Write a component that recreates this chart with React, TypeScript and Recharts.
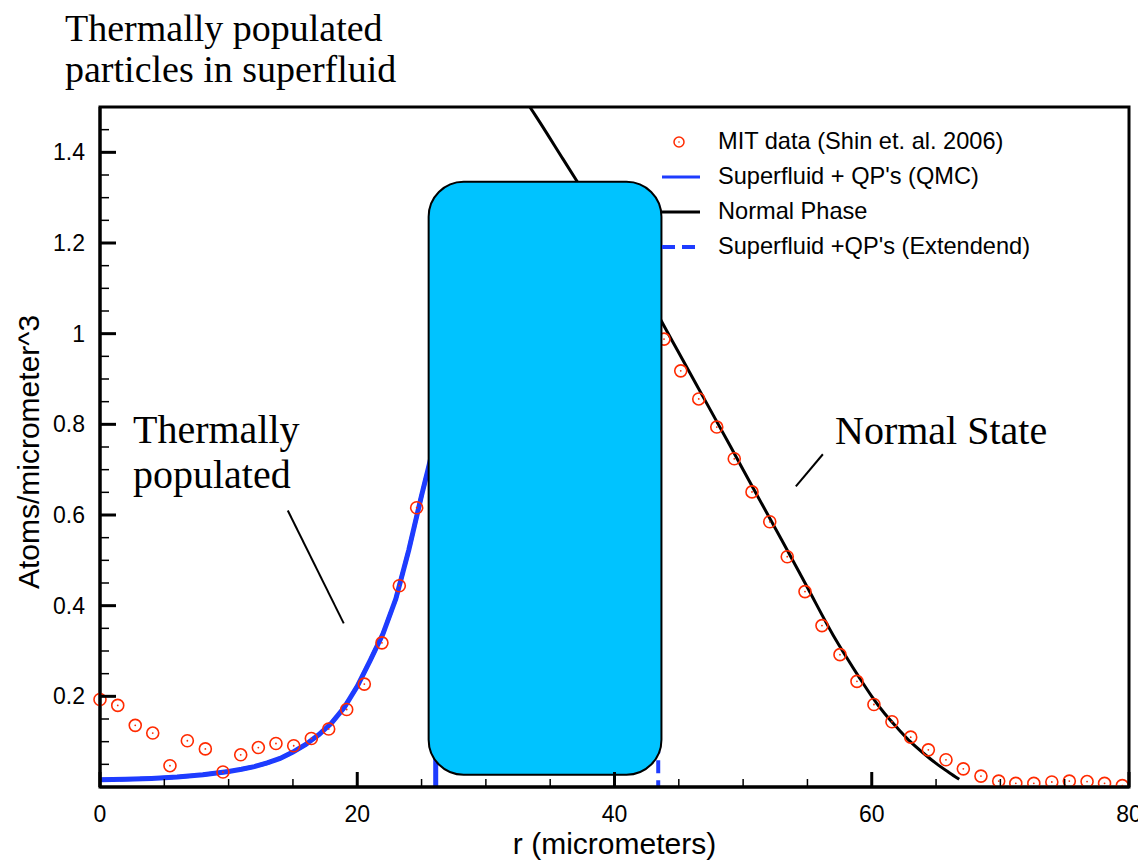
import React from 'react'
import {
  ComposedChart, Line, Scatter, XAxis, YAxis, ReferenceArea, ReferenceLine, Legend
} from 'recharts'

const SANS = '"Liberation Sans", Arial, Helvetica, sans-serif'
const SERIF = '"Liberation Serif", "Times New Roman", serif'
const RED = '#ff2a00'
const BLUE = '#1e3cff'
const CYAN = '#00c3ff'

// MIT data (Shin et. al. 2006) - points hidden under the box are left out
const mitR = [
  0, 1.38, 2.74, 4.1, 5.44, 6.79, 8.19, 9.56, 10.94, 12.31, 13.68, 15.06, 16.43, 17.78,
  19.18, 20.55, 21.92, 23.27, 24.62,
  43.85, 45.15, 46.55, 47.95, 49.31, 50.69, 52.07, 53.43, 54.81, 56.13, 57.53, 58.85,
  60.17, 61.57, 63.03, 64.4, 65.77, 67.12, 68.49, 69.87, 71.2, 72.6, 74.0, 75.36, 76.74,
  78.1, 79.48,
]
const mitV = [
  0.193, 0.18, 0.136, 0.119, 0.047, 0.102, 0.084, 0.033, 0.071, 0.087, 0.096, 0.091, 0.107, 0.128,
  0.171, 0.227, 0.318, 0.444, 0.616,
  0.988, 0.918, 0.856, 0.794, 0.724, 0.651, 0.585, 0.508, 0.431, 0.356, 0.292, 0.233,
  0.182, 0.144, 0.11, 0.082, 0.06, 0.04, 0.024, 0.013, 0.008, 0.008, 0.011, 0.013, 0.012,
  0.008, 0.003,
]

// Superfluid + QP's (QMC)
const qmcR = [0, 2, 4, 6, 8, 10, 11, 12, 13, 14, 15, 16, 17, 18, 19, 20, 21, 22, 23, 24, 25, 25.5, 26.1, 26.1]
const qmcV = [0.016, 0.017, 0.019, 0.022, 0.027, 0.034, 0.039, 0.045, 0.053, 0.063, 0.077, 0.094, 0.115, 0.141, 0.176, 0.222, 0.279, 0.338, 0.415, 0.522, 0.643, 0.7, 0.77, 0]

// Superfluid +QP's (Extendend)
const extR = [0, 2, 4, 6, 8, 10, 11, 12, 13, 14, 15, 16, 17, 18, 19, 20, 21, 22, 23, 24, 25, 25.5, 28, 32, 36, 40, 43.4, 43.4]
const extV = [0.016, 0.017, 0.019, 0.022, 0.027, 0.034, 0.039, 0.045, 0.053, 0.063, 0.077, 0.094, 0.115, 0.141, 0.176, 0.222, 0.279, 0.338, 0.415, 0.522, 0.643, 0.7, 0.95, 1.15, 1.25, 1.28, 1.28, 0]

// Normal Phase
const normalR = [32, 34, 36, 38, 40, 42, 43.6, 45, 47, 49, 51, 53, 55, 57, 58, 59, 60, 61, 62, 63, 64, 65, 66, 66.8]
const normalV = [1.56, 1.475, 1.385, 1.295, 1.205, 1.115, 1.03, 0.958, 0.855, 0.752, 0.648, 0.545, 0.44, 0.335, 0.288, 0.243, 0.2, 0.162, 0.13, 0.1, 0.075, 0.052, 0.032, 0.017]

const xTicks = [0, 5, 10, 15, 20, 25, 30, 35, 40, 45, 50, 55, 60, 65, 70, 75, 80]
const xLabels = [0, 20, 40, 60, 80]
const yTicks = [0.05, 0.1, 0.15, 0.2, 0.25, 0.3, 0.35, 0.4, 0.45, 0.5, 0.55, 0.6, 0.65, 0.7, 0.75, 0.8, 0.85, 0.9, 0.95, 1, 1.05, 1.1, 1.15, 1.2, 1.25, 1.3, 1.35, 1.4, 1.45]
const yLabels = [0.2, 0.4, 0.6, 0.8, 1, 1.2, 1.4]

const legendNames = ['MIT data (Shin et. al. 2006)', "Superfluid + QP's (QMC)", 'Normal Phase', "Superfluid +QP's (Extendend)"]

// the covering box and the pointer lines, in data units
const boxR = [25.55, 43.65]
const boxV = [0.027, 1.335]
const thermalPointer = [{ x: 14.6, y: 0.61 }, { x: 18.95, y: 0.361 }]
const normalPointer = [{ x: 56.2, y: 0.734 }, { x: 54.1, y: 0.663 }]

const zip = (rs: number[], vs: number[]) => rs.map((r, i) => ({ r, v: vs[i] }))
const mitData = zip(mitR, mitV)
const qmcData = zip(qmcR, qmcV)
const extData = zip(extR, extV)
const normalData = zip(normalR, normalV)

const XTick = (props: any) => {
  const { x, y, payload } = props
  const major = xLabels.includes(payload.value)
  return (
    <g>
      <line x1={x} x2={x} y1={y} y2={y - (major ? 15 : 8)} stroke="#000" strokeWidth={major ? 3 : 1.5} />
      {major && (
        <text x={x} y={y + 35} textAnchor="middle" fontSize={23} fontFamily={SANS} fill="#000">
          {payload.value}
        </text>
      )}
    </g>
  )
}

const YTick = (props: any) => {
  const { x, y, payload } = props
  const major = yLabels.some(v => Math.abs(v - payload.value) < 1e-6)
  return (
    <g>
      <line x1={x} x2={x + (major ? 16 : 9)} y1={y} y2={y} stroke="#000" strokeWidth={major ? 3 : 1.5} />
      {major && (
        <text x={x - 15} y={y + 8} textAnchor="end" fontSize={23} fontFamily={SANS} fill="#000">
          {String(payload.value)}
        </text>
      )}
    </g>
  )
}

const Ring = (p: any) => (
  <g>
    <circle cx={p.cx} cy={p.cy} r={6} fill="none" stroke={RED} strokeWidth={1.6} />
    <circle cx={p.cx} cy={p.cy} r={0.9} fill={RED} />
  </g>
)

const LegendBox = () => (
  <div style={{ fontFamily: SANS, fontSize: 23.6, color: '#000' }}>
    {legendNames.map((name, i) => (
      <div key={name} style={{ display: 'flex', alignItems: 'center', height: 35 }}>
        <svg width={45} height={20} style={{ marginRight: 18 }}>
          {i === 0 && (
            <>
              <circle cx={24} cy={10} r={5} fill="none" stroke={RED} strokeWidth={1.5} />
              <circle cx={24} cy={10} r={0.8} fill={RED} />
            </>
          )}
          {i === 1 && <line x1={7} x2={45} y1={10} y2={10} stroke={BLUE} strokeWidth={3} />}
          {i === 2 && <line x1={7} x2={45} y1={10} y2={10} stroke="#000" strokeWidth={3} />}
          {i === 3 && <line x1={7} x2={45} y1={10} y2={10} stroke={BLUE} strokeWidth={4} strokeDasharray="13 7" />}
        </svg>
        <span style={{ whiteSpace: 'nowrap' }}>{name}</span>
      </div>
    ))}
  </div>
)

const serifText: React.CSSProperties = {
  position: 'absolute', fontFamily: SERIF, color: '#000', whiteSpace: 'nowrap',
}

export default function App() {
  return (
    <div style={{ position: 'relative', width: 1138, height: 860 }}>
      <ComposedChart width={1138} height={860} margin={{ top: 99, right: 17, bottom: 0, left: 0 }}>
        <XAxis
          dataKey="r" type="number" domain={[0, 80]} ticks={xTicks} interval={0}
          tick={<XTick />} tickLine={false} tickSize={0} tickMargin={0} height={81}
          axisLine={{ stroke: '#000', strokeWidth: 3 }}
          label={(p: any) => (
            <text x={p.viewBox.x + p.viewBox.width / 2} y={p.viewBox.y + 67} textAnchor="middle"
              fontSize={30} fontFamily={SANS} fill="#000">r (micrometers)</text>
          )}
        />
        <YAxis
          dataKey="v" type="number" domain={[0, 1.5]} ticks={yTicks} interval={0} allowDataOverflow
          tick={<YTick />} tickLine={false} tickSize={0} tickMargin={0} width={92}
          axisLine={{ stroke: '#000', strokeWidth: 3 }}
          label={(p: any) => {
            const cx = p.viewBox.x + 20.5
            const cy = p.viewBox.y + p.viewBox.height / 2 + 5
            return (
              <text x={cx} y={cy} transform={`rotate(-90, ${cx}, ${cy})`} textAnchor="middle"
                dominantBaseline="central" fontSize={30} fontFamily={SANS} fill="#000">
                Atoms/micrometer^3
              </text>
            )
          }}
        />

        <Line data={qmcData} dataKey="v" type="linear" stroke={BLUE} strokeWidth={5} dot={false} isAnimationActive={false} />
        <Line data={normalData} dataKey="v" type="monotone" stroke="#000" strokeWidth={3} dot={false} isAnimationActive={false} />
        <Line data={extData} dataKey="v" type="linear" stroke={BLUE} strokeWidth={4} strokeDasharray="13 7" dot={false} isAnimationActive={false} />
        <Scatter data={mitData} dataKey="v" shape={Ring} isAnimationActive={false} />

        <ReferenceLine segment={thermalPointer} stroke="#000" strokeWidth={2} />
        <ReferenceLine segment={normalPointer} stroke="#000" strokeWidth={2} />

        <ReferenceArea
          x1={boxR[0]} x2={boxR[1]} y1={boxV[0]} y2={boxV[1]} zIndex={800}
          shape={(p: any) => (
            <rect x={p.x} y={p.y} width={p.width} height={p.height} rx={35} ry={35}
              fill={CYAN} stroke="#000" strokeWidth={2} />
          )}
        />

        {/* plot frame (top and right edges) */}
        <ReferenceArea
          x1={0} x2={80} y1={0} y2={1.5} ifOverflow="visible" zIndex={900}
          shape={(p: any) => (
            <rect x={p.x} y={p.y} width={p.width} height={p.height}
              fill="none" stroke="#000" strokeWidth={3} />
          )}
        />

        <Legend layout="vertical" align="center" verticalAlign="middle" content={<LegendBox />}
          wrapperStyle={{ top: 116, left: 647, width: 440, height: 140 }} />
      </ComposedChart>

      <div style={{ ...serifText, left: 57, top: 0, fontSize: 38, lineHeight: '41px' }}>
        Thermally populated<br />particles in superfluid
      </div>
      <div style={{ ...serifText, left: 125, top: 399, fontSize: 40, lineHeight: '45px' }}>
        Thermally<br />populated
      </div>
      <div style={{ ...serifText, left: 827, top: 400, fontSize: 40, lineHeight: '45px' }}>
        Normal State
      </div>
    </div>
  )
}
